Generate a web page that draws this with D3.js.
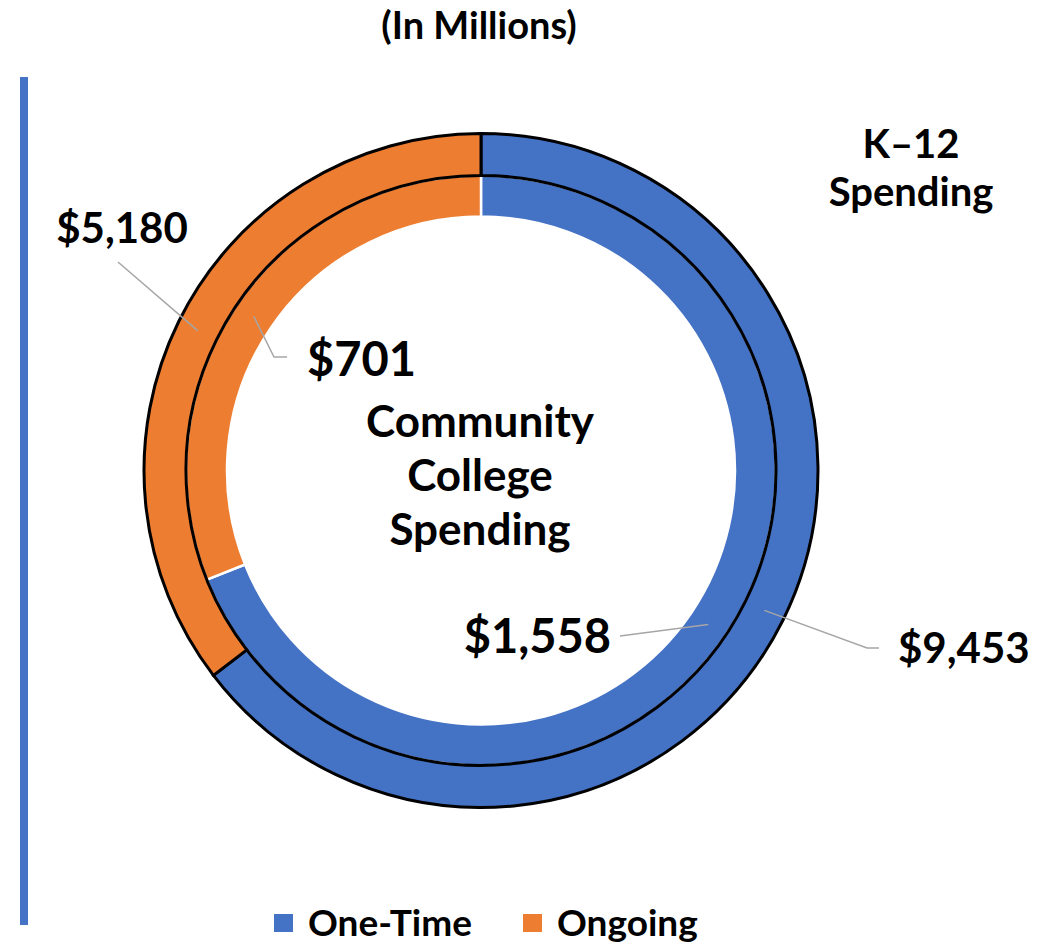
<!DOCTYPE html>
<html>
<head>
<meta charset="utf-8">
<script src="https://cdn.jsdelivr.net/npm/d3@7"></script>
<style>
  body { margin: 0; background: #fff; }
  text { font-family: Lato, "Open Sans", sans-serif; font-weight: 700; fill: #000; }
</style>
</head>
<body>
<svg id="chart" width="1056" height="944"></svg>
<script>
// ---- data ----
const categories = ["One-Time", "Ongoing"]
const k12Values = [9453, 5180]
const ccValues = [1558, 701]
const colors = ["#4472c4", "#ed7d31"]

const fmt = d3.format("$,")

let svg = d3.select('#chart')
let cx = 481, cy = 470.5

// title + left rule
svg.append("text")
    .attr("x", 479).attr("y", 39)
    .attr("text-anchor", "middle")
    .style("font-size", "38px")
    .text("(In Millions)")

svg.append("rect")
    .attr("x", 20).attr("y", 77)
    .attr("width", 8).attr("height", 848)
    .attr("fill", "#4472c4")

let pie = d3.pie().sort(null).startAngle(0).endAngle(2 * Math.PI)
let colorScale = d3.scaleOrdinal().domain(categories).range(colors)

let g = svg.append("g").attr("transform", "translate(" + cx + "," + cy + ")")

/* -------------- rings -------------- */

let innerArc = d3.arc().innerRadius(254).outerRadius(295)
let outerArc = d3.arc().innerRadius(295).outerRadius(337)

let ccPie = pie(ccValues)
let k12Pie = pie(k12Values)

g.selectAll(".cc")
    .data(ccPie)
    .enter().append("path")
    .attr("class", "cc")
    .attr("d", innerArc)
    .attr("fill", function (d, i) { return colorScale(categories[i]) })
    .attr("stroke", "#fff")
    .attr("stroke-width", 2.5)

g.selectAll(".k12")
    .data(k12Pie)
    .enter().append("path")
    .attr("class", "k12")
    .attr("d", outerArc)
    .attr("fill", function (d, i) { return colorScale(categories[i]) })
    .attr("stroke", "#000")
    .attr("stroke-width", 3)

/* -------------- data labels -------------- */

// label placement per slice: text position + leader points after the centroid
let labelLayout = [
    { arc: outerArc, d: k12Pie[0], x: 898, y: 663, anchor: "start", size: 42, pts: [[867, 648], [879, 648]] },
    { arc: outerArc, d: k12Pie[1], x: 122, y: 243, anchor: "middle", size: 42, pts: [[118, 262]] },
    { arc: innerArc, d: ccPie[0], x: 611, y: 653, anchor: "end", size: 47, pts: [[620, 636]] },
    { arc: innerArc, d: ccPie[1], x: 307, y: 376, anchor: "start", size: 47, pts: [[274, 357], [287, 357]] }
]

let line = d3.line()
labelLayout.forEach(function (l) {
    let c = l.arc.centroid(l.d)
    let pts = [[c[0] + cx, c[1] + cy]].concat(l.pts)
    svg.append("path")
        .attr("d", line(pts))
        .attr("fill", "none")
        .attr("stroke", "#a6a6a6")
        .attr("stroke-width", 1.5)
    svg.append("text")
        .attr("x", l.x).attr("y", l.y)
        .attr("text-anchor", l.anchor)
        .style("font-size", l.size + "px")
        .text(fmt(l.d.data))
})

/* -------------- ring titles -------------- */

function multiLine(lines, x, y0, step, size) {
    let t = svg.append("text")
        .attr("text-anchor", "middle")
        .style("font-size", size + "px")
    lines.forEach(function (s, i) {
        t.append("tspan").attr("x", x).attr("y", y0 + i * step).text(s)
    })
}
multiLine(["K\u201312", "Spending"], 911, 158, 48, 40)
multiLine(["Community", "College", "Spending"], 480, 437, 54, 44)

/* -------------- legend -------------- */

let legendX = [274, 523]
let legend = svg.selectAll(".legend")
    .data(categories)
    .enter().append("g")
    .attr("class", "legend")
    .attr("transform", function (d, i) { return "translate(" + legendX[i] + ",0)" })

legend.append("rect")
    .attr("x", 0).attr("y", 914)
    .attr("width", 19).attr("height", 18)
    .attr("fill", function (d) { return colorScale(d) })

legend.append("text")
    .attr("x", 34).attr("y", 936)
    .style("font-size", "37px")
    .text(function (d) { return d })
</script>
</body>
</html>
